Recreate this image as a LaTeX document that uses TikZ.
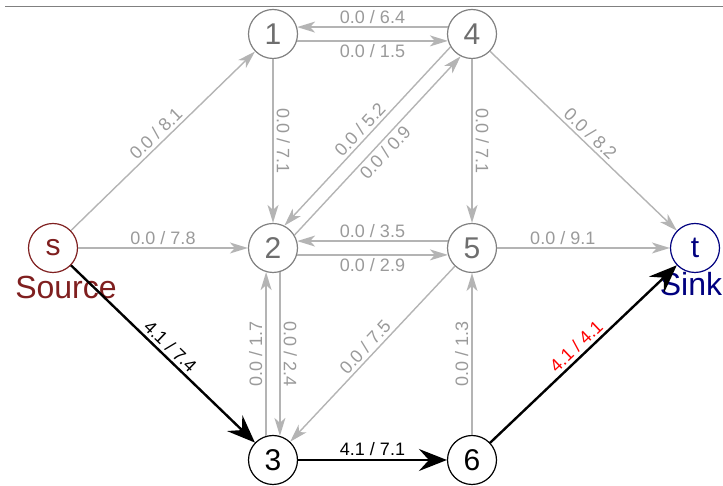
\documentclass[tikz,border=0pt]{standalone}
\usepackage{fontspec}
\setmainfont{Liberation Sans}
\usetikzlibrary{arrows.meta}

\definecolor{edgegray}{HTML}{B4B4B4}
\definecolor{labelgray}{HTML}{9A9A9A}
\definecolor{nodegray}{HTML}{808080}
\definecolor{digitgray}{HTML}{6E6E6E}
\definecolor{srcred}{HTML}{7F1F1F}
\definecolor{sinkblue}{HTML}{00007F}

\begin{document}
\begin{tikzpicture}[x=1pt, y=1pt]
  \tikzstyle{vertex}=[circle, draw=nodegray, text=digitgray, line width=1.2pt, minimum size=49pt, inner sep=0pt, fill=white, font=\fontsize{30}{30}\selectfont]
  \tikzstyle{source}=[draw=srcred, text=srcred]
  \tikzstyle{sink}=[draw=sinkblue, text=sinkblue]
  \tikzstyle{used}=[draw=black, text=black]
  \tikzstyle{flow}=[draw=edgegray, line width=1.4pt, -{Stealth[length=18pt, width=11pt, inset=5pt]}]
  \tikzstyle{full}=[draw=black, line width=2.4pt, -{Stealth[length=28pt, width=22pt, inset=10pt]}]
  \tikzstyle{lbl}=[text=labelgray, font=\fontsize{18}{18}\selectfont, inner sep=3pt]
  \tikzstyle{tag}=[font=\fontsize{32}{32}\selectfont, inner sep=0pt]

  \useasboundingbox (0,0) rectangle (723,486);
  \draw[nodegray, line width=1pt] (5,479) -- (723,479);

  \node[vertex, source] (s)  at (53,  238) {s};
  \node[vertex]         (n1) at (273, 452) {1};
  \node[vertex]         (n4) at (472, 452) {4};
  \node[vertex]         (n2) at (273, 238) {2};
  \node[vertex]         (n5) at (472, 238) {5};
  \node[vertex, sink]   (t)  at (695, 238) {t};
  \node[vertex, used]   (n3) at (273, 26)  {3};
  \node[vertex, used]   (n6) at (472, 26)  {6};

  \node[tag, text=srcred]   (srctag)  at (66,  199) {Source};
  \node[tag, text=sinkblue] (sinktag) at (691, 202) {Sink};

  \path (s) edge[flow] node[lbl, above, sloped] {0.0 / 8.1} (n1);
  \path (s) edge[flow] node[lbl, above] {0.0 / 7.8} (n2);
  \path (s) edge[full] node[lbl, text=black, above, sloped] {4.1 / 7.4} (n3);
  \path (n4.164) edge[flow] node[lbl, above] {0.0 / 6.4} (n1.16);
  \path (n1.-16) edge[flow] node[lbl, below] {0.0 / 1.5} (n4.196);
  \path (n1) edge[flow] node[lbl, rotate=-90, above] {0.0 / 7.1} (n2);
  \path (n4.211) edge[flow] node[lbl, above, sloped] {0.0 / 5.2} (n2.63);
  \path (n2.31) edge[flow] node[lbl, below, sloped] {0.0 / 0.9} (n4.243);
  \path (n4) edge[flow] node[lbl, rotate=-90, above] {0.0 / 7.1} (n5);
  \path (n4) edge[flow] node[lbl, above, sloped] {0.0 / 8.2} (t);
  \path (n5.164) edge[flow] node[lbl, above] {0.0 / 3.5} (n2.16);
  \path (n2.-16) edge[flow] node[lbl, below] {0.0 / 2.9} (n5.196);
  \path (n5) edge[flow] node[lbl, above, pos=0.38] {0.0 / 9.1} (t);
  \path (n3.106) edge[flow] node[lbl, rotate=90, above] {0.0 / 1.7} (n2.254);
  \path (n2.-74) edge[flow] node[lbl, rotate=-90, above] {0.0 / 2.4} (n3.74);
  \path (n5) edge[flow] node[lbl, above, sloped] {0.0 / 7.5} (n3);
  \path (n6) edge[flow] node[lbl, rotate=90, above] {0.0 / 1.3} (n5);
  \path (n3) edge[full] node[lbl, text=black, above] {4.1 / 7.1} (n6);
  \path (n6) edge[full] node[lbl, text=red, above, sloped] {4.1 / 4.1} (t);
\end{tikzpicture}
\end{document}
